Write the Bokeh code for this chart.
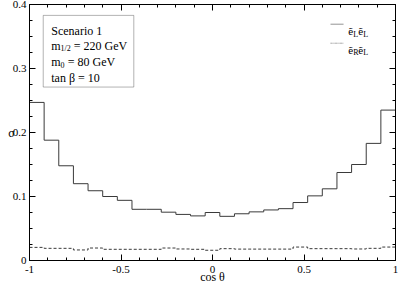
import numpy as np
from bokeh.plotting import figure
from bokeh.models import (Range1d, FixedTicker, LinearAxis, Label, BoxAnnotation)
from bokeh.embed import file_html
from bokeh.resources import INLINE

# ---- data ----
bin_edges = np.linspace(-1.0, 1.0, 26)
sigma_LL = [0.247, 0.188, 0.148, 0.120, 0.109, 0.100, 0.094, 0.080, 0.080, 0.0755,
            0.072, 0.0697, 0.075, 0.069, 0.073, 0.076, 0.079, 0.081, 0.0906, 0.101,
            0.112, 0.1375, 0.150, 0.183, 0.235]
sigma_RL = [0.0205, 0.019, 0.019, 0.0165, 0.0195, 0.0175, 0.0175, 0.0175, 0.0175, 0.0195,
            0.018, 0.0175, 0.016, 0.0185, 0.0178, 0.0178, 0.0178, 0.0178, 0.021, 0.0185,
            0.0185, 0.0185, 0.018, 0.019, 0.021]
x_major = [-1, -0.5, 0, 0.5, 1]
x_labels = ["-1", "-0.5", "0", "0.5", "1"]
y_major = [0, 0.1, 0.2, 0.3, 0.4]
y_labels = ["0", "0.1", "0.2", "0.3", "0.4"]
x_minor = [round(v, 2) for v in np.arange(-1.0, 1.001, 0.1)]
y_minor = [round(v, 3) for v in np.arange(0.0, 0.4001, 0.025)]
legend_subs = [("L", "L"), ("R", "L")]
legend_dash = ["solid", "3 2"]

FONT = "Liberation Serif"
LC = "#3a3a3a"

p = figure(width=398, height=286, x_range=Range1d(-1, 1), y_range=Range1d(0, 0.4),
           output_backend="svg", toolbar_location=None,
           min_border_left=29, min_border_right=3, min_border_top=4, min_border_bottom=26)
p.grid.visible = False
p.outline_line_color = None
p.background_fill_color = "white"

bottom = p.below[0]
left = p.left[0]

xt = FixedTicker(ticks=x_major, minor_ticks=x_minor)
yt = FixedTicker(ticks=y_major, minor_ticks=y_minor)
bottom.ticker = xt
left.ticker = yt
bottom.major_label_overrides = {v: s for v, s in zip(x_major, x_labels)}
left.major_label_overrides = {v: s for v, s in zip(y_major, y_labels)}

top = LinearAxis(ticker=xt)
right = LinearAxis(ticker=yt)
top.major_label_overrides = {v: "" for v in x_major}
right.major_label_overrides = {v: "" for v in y_major}
p.add_layout(top, "above")
p.add_layout(right, "right")

for ax in [bottom, left, top, right]:
    ax.major_tick_in = 6
    ax.major_tick_out = 0
    ax.minor_tick_in = 3
    ax.minor_tick_out = 0
    ax.axis_line_color = "black"
    ax.major_tick_line_color = "black"
    ax.minor_tick_line_color = "black"
    ax.major_label_text_font = FONT
    ax.major_label_text_font_size = "11px"
    ax.major_label_text_color = "black"
    ax.major_label_standoff = 3
for ax in [top, right]:
    ax.major_label_standoff = 0
bottom.major_label_standoff = 5

bottom.axis_label = "cos θ"
left.axis_label = "σ"
for ax in [bottom, left]:
    ax.axis_label_text_font = FONT
    ax.axis_label_text_font_size = "12px"
    ax.axis_label_text_font_style = "normal"
    ax.axis_label_text_color = "black"
bottom.axis_label_standoff = -6
left.axis_label_standoff = -5
left.axis_label_orientation = "horizontal"

# histogram outlines drawn as step lines from the bin data
sx = np.repeat(bin_edges, 2)[1:-1]
p.line(x=sx, y=np.repeat(sigma_LL, 2), line_color=LC, line_width=1)
p.line(x=sx, y=np.repeat(sigma_RL, 2), line_color=LC, line_width=1, line_dash="3 2")


def lab(x, y, text, size="11px", xo=0, yo=0, align="left", baseline="alphabetic"):
    p.add_layout(Label(x=x, y=y, text=text, x_offset=xo, y_offset=yo,
                       text_font=FONT, text_font_size=size, text_color="black",
                       text_baseline=baseline, text_align=align))

# legend (key lines + labels with subscripts)
lx = 0.7415
for (s1, s2), dash, ky, ty in zip(legend_subs, legend_dash,
                                  [0.3692, 0.3395], [0.3585, 0.329]):
    p.add_layout(BoxAnnotation(left=0.645, right=0.716, top=ky, bottom=ky,
                               fill_alpha=0, line_color=LC, line_width=1,
                               line_dash=dash))
    lab(lx, ty, "ẽ")
    lab(lx, ty, s1, "8px", xo=5, yo=-3)
    lab(lx, ty, "ẽ", xo=10)
    lab(lx, ty, s2, "8px", xo=15, yo=-3)

# info box
p.add_layout(BoxAnnotation(left=-0.925, right=-0.430, top=0.383, bottom=0.271,
                           fill_alpha=0, line_color="black", line_width=1))
bx = -0.881
lab(bx, 0.3583, "Scenario 1", "12px")
lab(bx, 0.3353, "m", "12px")
lab(bx, 0.3353, "1/2", "8px", xo=9.3, yo=-3)
lab(bx, 0.3353, "= 220 GeV", "12px", xo=22.5)
lab(bx, 0.3098, "m", "12px")
lab(bx, 0.3098, "0", "8px", xo=9.3, yo=-3)
lab(bx, 0.3098, "= 80 GeV", "12px", xo=16.5)
lab(bx, 0.2853, "tan β = 10", "12px")

open("out.html", "w").write(file_html(p, INLINE))
